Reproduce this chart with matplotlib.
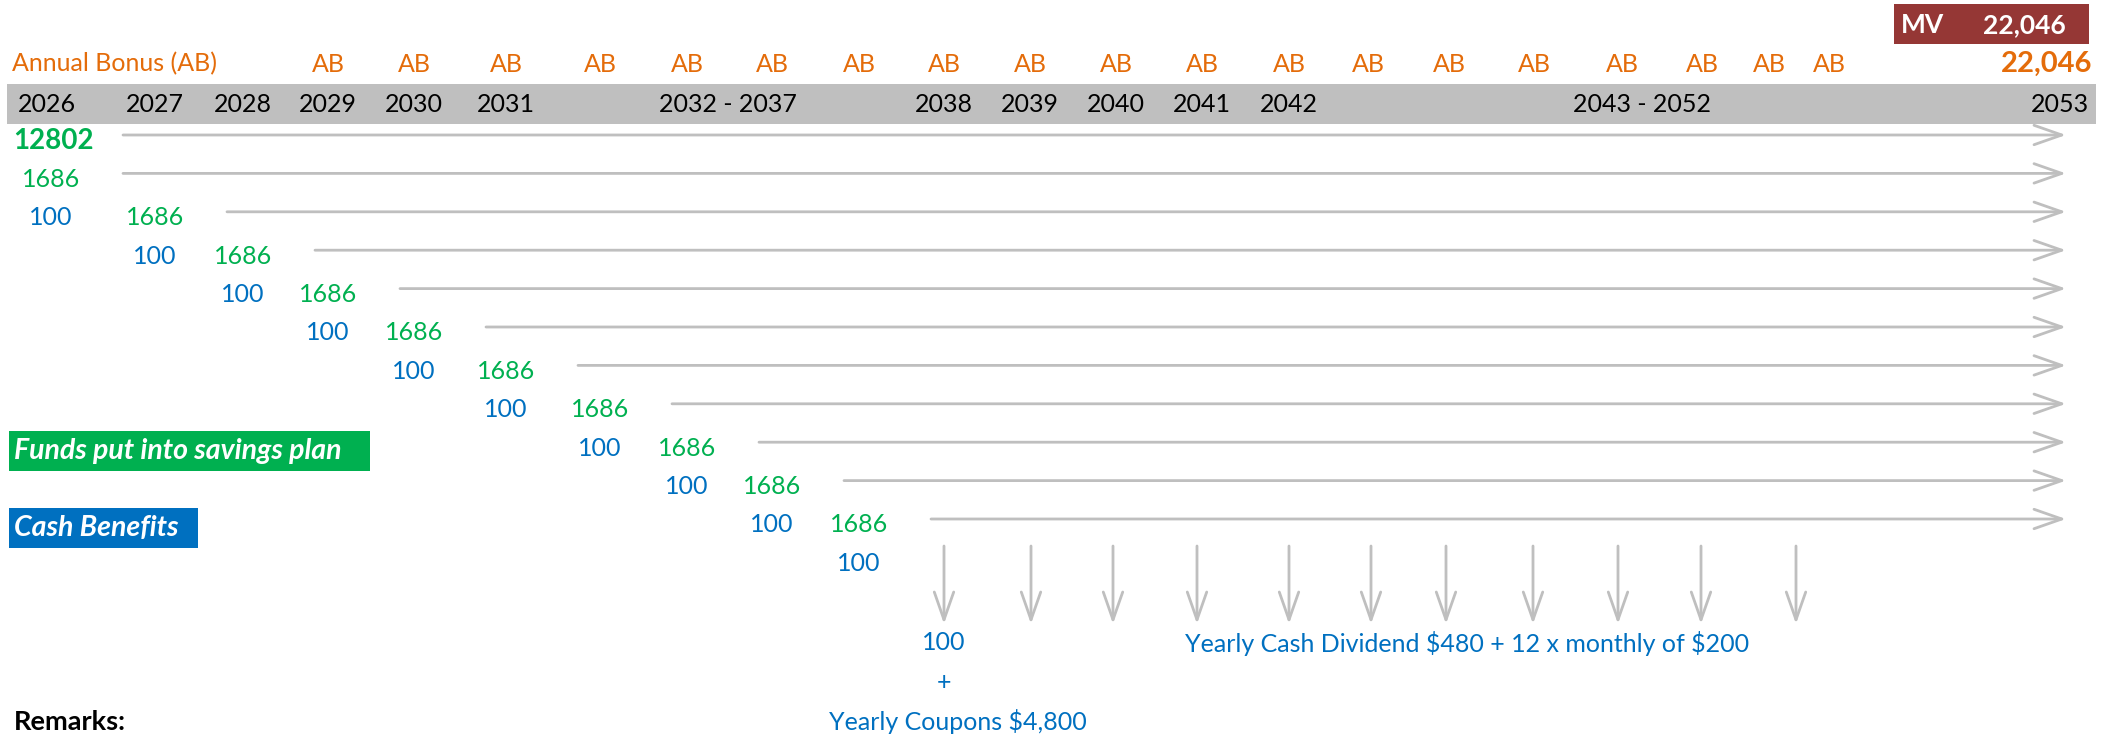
import matplotlib.pyplot as plt
from matplotlib.patches import Rectangle, FancyArrowPatch

plt.rcParams['font.family'] = ['Lato', 'DejaVu Sans']
plt.rcParams['text.parse_math'] = False

GREEN = '#00b050'
BLUE = '#0070c0'
ORANGE = '#e46c0a'
MAROON = '#953735'
GREY = '#bfbfbf'

# --- data ---
year_labels = ['2026', '2027', '2028', '2029', '2030', '2031', '2032 - 2037',
               '2038', '2039', '2040', '2041', '2042', '2043 - 2052', '2053']
bonus_title = 'Annual Bonus (AB)'
bonus_cols = list(range(3, 22))      # columns carrying an AB mark
mv_value = '22,046'

first_deposit = 12802
yearly_deposit = 1686
n_deposits = 10                      # 1686 paid after the first lump sum
cash_benefit = 100
n_benefits = 10                      # 100 paid while saving

payout_first = ['100', '+', 'Yearly Coupons $4,800']
payout_text = 'Yearly Cash Dividend $480 + 12 x monthly of $200'
n_payouts = 11

legend_labels = ['Funds put into savings plan', 'Cash Benefits']
remarks = 'Remarks:'

# --- layout (pixel units) ---
W, H = 2114, 738
col_x = [51, 155, 243, 328, 414, 506, 600, 687, 772, 859, 944, 1030, 1116,
         1202, 1289, 1368, 1449, 1534, 1622, 1702, 1769, 1829]
year_x = [47, 155, 243, 328, 414, 506, 728, 944, 1030, 1116, 1202, 1289,
          1642, 2060]
drop_x = [944, 1031, 1113, 1197, 1289, 1371, 1446, 1533, 1618, 1701, 1796]
row_y0, row_dy = 135, 38.4
arrow_end = 2066
FS = 18

fig = plt.figure(figsize=(W / 100, H / 100), dpi=100)
ax = fig.add_axes([0, 0, 1, 1])
ax.set_xlim(0, W)
ax.set_ylim(H, 0)
ax.axis('off')


def arrow(x0, y0, x1, y1):
  a = FancyArrowPatch((x0, y0), (x1, y1),
                      arrowstyle='->,head_length=20,head_width=7',
                      mutation_scale=1, color=GREY, lw=2,
                      shrinkA=0, shrinkB=0)
  ax.add_patch(a)


# header band
ax.add_patch(Rectangle((7, 84), 2089, 40, color=GREY, lw=0))
for lab, x in zip(year_labels, year_x):
  ax.text(x, 104, lab, ha='center', va='center', fontsize=FS, color='black')

ax.text(12, 64, bonus_title, ha='left', va='center', fontsize=FS, color=ORANGE)
for c in bonus_cols:
  ax.text(col_x[c], 64, 'AB', ha='center', va='center', fontsize=FS,
          color=ORANGE)
ax.text(2092, 64, mv_value, ha='right', va='center', fontsize=21,
        color=ORANGE, fontweight='bold')

ax.add_patch(Rectangle((1894, 4), 195, 40, color=MAROON, lw=0))
ax.text(1901, 25, 'MV', ha='left', va='center', fontsize=19, color='white',
        fontweight='bold')
ax.text(2066, 25, mv_value, ha='right', va='center', fontsize=19,
        color='white', fontweight='bold')

# deposits and the money they keep carrying to 2053
deposits = [first_deposit] + [yearly_deposit] * n_deposits
dep_cols = [0] + list(range(n_deposits))
for r, (amt, c) in enumerate(zip(deposits, dep_cols)):
  y = row_y0 + r * row_dy
  if r == 0:
    ax.text(col_x[c] + 2, y + 6, str(amt), ha='center', va='center',
            fontsize=20, color=GREEN, fontweight='bold')
  else:
    ax.text(col_x[c], y + 6, str(amt), ha='center', va='center', fontsize=FS,
            color=GREEN)
  arrow(col_x[c] + 72, y, arrow_end, y)

for i in range(n_benefits):
  y = row_y0 + (i + 2) * row_dy
  ax.text(col_x[i], y + 6, str(cash_benefit), ha='center', va='center',
          fontsize=FS, color=BLUE)

# payout phase
for x in drop_x[:n_payouts]:
  arrow(x, 546, x, 624)
for lab, y in zip(payout_first, [643, 683, 721]):
  ax.text(drop_x[0] + (14 if len(lab) > 3 else 0), y, lab, ha='center',
          va='center', fontsize=FS, color=BLUE)
ax.text(1467, 643, payout_text, ha='center', va='center', fontsize=FS,
        color=BLUE)

# legend boxes
ax.add_patch(Rectangle((9, 431), 361, 40, color=GREEN, lw=0))
ax.add_patch(Rectangle((9, 508), 189, 40, color=BLUE, lw=0))
for lab, y in zip(legend_labels, [451, 528]):
  ax.text(14, y, lab, ha='left', va='center', fontsize=20.5, color='white',
          fontweight='bold', fontstyle='italic')

ax.text(14, 722, remarks, ha='left', va='center', fontsize=19.5,
        color='black', fontweight='bold')

fig.savefig('out.png', dpi=100)
